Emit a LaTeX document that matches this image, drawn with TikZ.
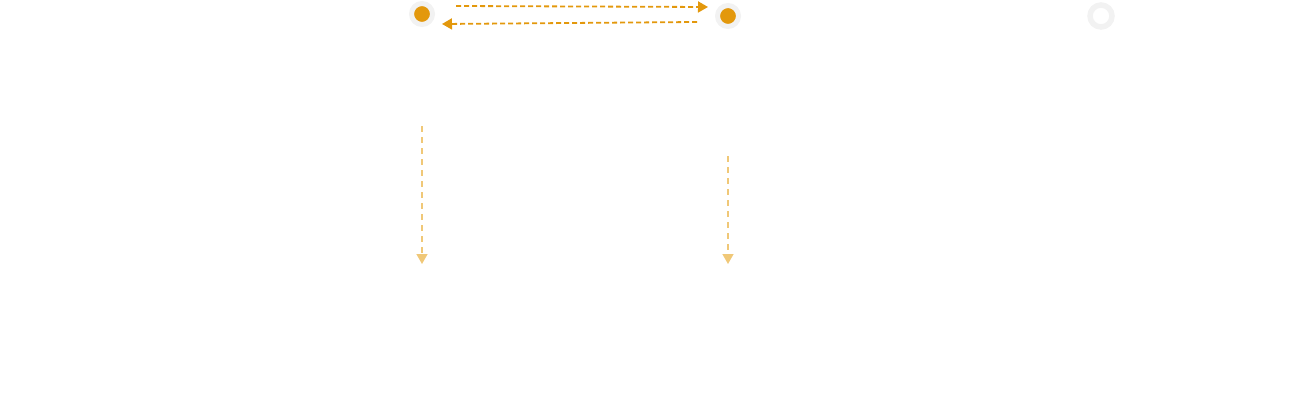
\documentclass[tikz,border=0pt]{standalone}
\usepackage{tikz}
\usetikzlibrary{positioning,arrows.meta}

\definecolor{amber}{HTML}{E3980C}
\definecolor{paleamber}{HTML}{F0C878}
\definecolor{ringgray}{HTML}{F2F2F2}

\tikzset{
  state/.style={circle,fill=amber,draw=ringgray,line width=5pt,minimum size=21pt,inner sep=0pt},
  idle/.style={circle,fill=white,draw=ringgray,line width=5.5pt,minimum size=22pt,inner sep=0pt},
  swap/.style={amber,line width=1.8pt,dash pattern=on 5pt off 3pt,-{Triangle[length=10pt,width=11pt]}},
  drop/.style={paleamber,line width=1.5pt,dash pattern=on 6pt off 5pt,-{Triangle[length=10pt,width=11pt]}}
}

\begin{document}
\begin{tikzpicture}[x=1pt,y=-1pt]
  \useasboundingbox (0,0) rectangle (1312,404);
  \node[state] (a) at (422,14) {};
  \node[state] (b) at (728,16) {};
  \node[idle] (c) at (1101,16) {};

  \coordinate (a out) at (456,6);
  \coordinate (b in) at (708,7);
  \coordinate (b out) at (697,22);
  \coordinate (a in) at (442,24);
  \draw[swap] (a out) -- (b in);
  \draw[swap] (b out) -- (a in);

  \coordinate (a top) at (422,126);
  \coordinate (a end) at (422,264);
  \coordinate (b top) at (728,156);
  \coordinate (b end) at (728,264);
  \draw[drop] (a top) -- (a end);
  \draw[drop] (b top) -- (b end);
\end{tikzpicture}
\end{document}
